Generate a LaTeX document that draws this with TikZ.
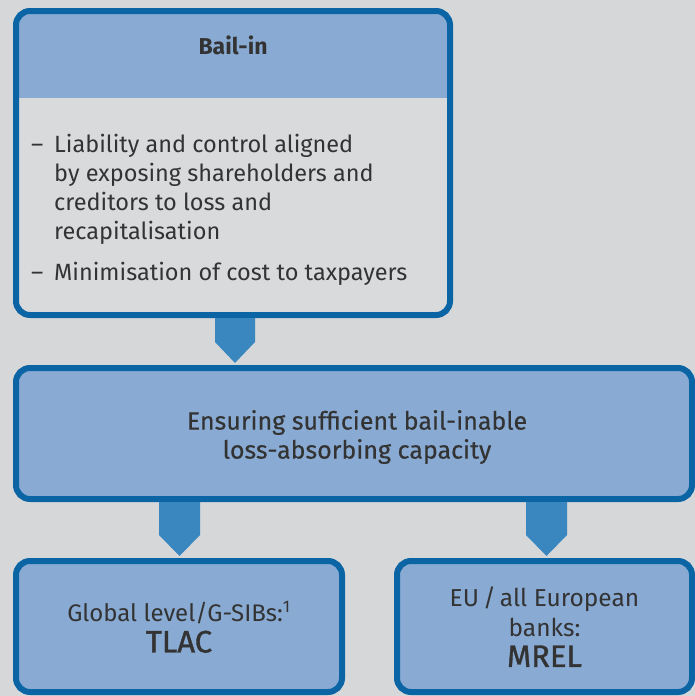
\documentclass[tikz,border=0pt]{standalone}
\usepackage{fontspec}
\setmainfont{Fira Sans}
\usetikzlibrary{calc}
\definecolor{bg}{HTML}{D6D7D9}
\definecolor{bodyc}{HTML}{D9DADC}
\definecolor{edge}{HTML}{0B65A5}
\definecolor{boxfill}{HTML}{88AAD3}
\definecolor{arrc}{HTML}{3A87C0}
\definecolor{txt}{HTML}{333333}
\tikzset{
  box/.style={draw=edge, line width=6pt, rounded corners=14pt, fill=boxfill, inner sep=0pt, text=txt},
  lbl/.style={text=txt, font=\fontsize{23}{29}\selectfont, align=center, inner sep=0pt},
  fat/.style={fill=arrc, draw=none}
}
\newcommand{\bigword}[1]{{\fontsize{31}{31}\selectfont\addfontfeature{FakeBold=1.2}#1}}
\begin{document}
\begin{tikzpicture}[x=1pt,y=-1pt]
\fill[bg] (0,0) rectangle (695,696);
\useasboundingbox (0,0) rectangle (695,696);
\node[box, minimum width=434pt, minimum height=304pt, fill=bodyc,
  path picture={\fill[boxfill, sharp corners] (path picture bounding box.north west) rectangle ([yshift=-87pt]path picture bounding box.north east);}]
  (top) at (233,163) {};
\node[box, minimum width=676pt, minimum height=131pt] (mid) at (354,433.5) {};
\node[box, minimum width=326pt, minimum height=131pt] (bl) at (179,626.5) {};
\node[box, minimum width=295pt, minimum height=131pt] (br) at (544.5,626.5) {};
% connectors
\fill[fat] ($(top.south)+(-18,0)$) -- ($(top.south)+(22,0)$) -- ($(top.south)+(22,24)$) -- ($(top.south)+(2,45)$) -- ($(top.south)+(-18,24)$) -- cycle;
\fill[fat] ($(mid.south)+(-195,0)$) -- ($(mid.south)+(-154,0)$) -- ($(mid.south)+(-154,33)$) -- ($(mid.south)+(-174.5,54)$) -- ($(mid.south)+(-195,33)$) -- cycle;
\fill[fat] ($(mid.south)+(172,0)$) -- ($(mid.south)+(213,0)$) -- ($(mid.south)+(213,33)$) -- ($(mid.south)+(192.5,54)$) -- ($(mid.south)+(172,33)$) -- cycle;
% texts
\node[lbl, font=\fontsize{23}{29}\bfseries\selectfont] (title) at (233,45) {Bail-in};
\node[lbl, font=\fontsize{23.5}{29}\selectfont, align=left, anchor=north west] (list) at (31,132)
  {\begin{tabular}{@{}p{23pt}@{}l@{}}
   –&Liability and control aligned\\
    &by exposing shareholders and\\
    &creditors to loss and\\
    &recapitalisation\\[12pt]
   –&Minimisation of cost to taxpayers
   \end{tabular}};
\node[lbl, font=\fontsize{25}{29}\selectfont\addfontfeature{FakeBold=0.4}] (midt) at (357,437) {Ensuring sufficient bail-inable\\loss-absorbing capacity};
\node[lbl, font=\fontsize{24}{31}\selectfont] (blt) at (179,627) {Global level/G-SIBs:\textsuperscript{1}\\\bigword{TLAC}};
\node[lbl, font=\fontsize{24.5}{30}\selectfont] (brt) at (544.5,627) {EU\,/\,all European\\ banks:\\\bigword{MREL}};
\end{tikzpicture}
\end{document}
